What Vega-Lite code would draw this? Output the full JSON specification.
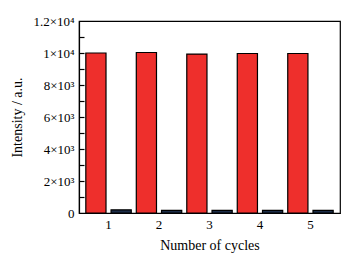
{
  "$schema": "https://vega.github.io/schema/vega-lite/v6.json",
  "width": 261,
  "height": 192,
  "autosize": {"type": "none"},
  "padding": {"left": 79, "top": 21, "right": 17, "bottom": 46},
  "background": "white",
  "config": {
    "font": "Liberation Serif",
    "view": {"stroke": "black", "strokeWidth": 1.2},
    "axis": {"grid": false, "domainColor": "black", "tickColor": "black", "labelColor": "black", "titleColor": "black", "labelFont": "Liberation Serif", "titleFont": "Liberation Serif", "labelFontSize": 13, "titleFontSize": 14, "titleFontWeight": "normal"}
  },
  "data": {
    "values": [
      {"cycle": "1", "series": "A", "intensity": 10000},
      {"cycle": "1", "series": "B", "intensity": 200},
      {"cycle": "2", "series": "A", "intensity": 10030},
      {"cycle": "2", "series": "B", "intensity": 160},
      {"cycle": "3", "series": "A", "intensity": 9930},
      {"cycle": "3", "series": "B", "intensity": 160},
      {"cycle": "4", "series": "A", "intensity": 9970},
      {"cycle": "4", "series": "B", "intensity": 160},
      {"cycle": "5", "series": "A", "intensity": 9970},
      {"cycle": "5", "series": "B", "intensity": 160}
    ]
  },
  "encoding": {
    "x": {
      "field": "cycle", "type": "ordinal",
      "scale": {"paddingInner": 0, "paddingOuter": 0.085},
      "axis": {"title": "Number of cycles", "labelAngle": 0, "ticks": false, "labelPadding": 5, "titlePadding": 7, "domainWidth": 1.2}
    },
    "xOffset": {
      "field": "series", "type": "nominal",
      "scale": {"paddingInner": 0.2, "paddingOuter": 0.1}
    },
    "color": {
      "field": "series", "type": "nominal",
      "scale": {"domain": ["A", "B"], "range": ["#ee2f2c", "#1c2d48"]},
      "legend": null
    }
  },
  "layer": [
    {
      "mark": {"type": "bar", "stroke": "black", "strokeWidth": 1.2},
      "encoding": {
        "y": {
          "field": "intensity", "type": "quantitative",
          "scale": {"domain": [0, 12000], "nice": false},
          "axis": {
            "orient": "left",
            "title": "Intensity / a.u.",
            "values": [0, 2000, 4000, 6000, 8000, 10000, 12000],
            "ticks": false,
            "labelPadding": 5,
            "labelExpr": "datum.value === 0 ? '0' : datum.value === 2000 ? '2×10³' : datum.value === 4000 ? '4×10³' : datum.value === 6000 ? '6×10³' : datum.value === 8000 ? '8×10³' : datum.value === 10000 ? '1×10⁴' : '1.2×10⁴'",
            "titlePadding": 8,
            "domainWidth": 1.2
          }
        }
      }
    },
    {
      "mark": {"type": "bar", "opacity": 0},
      "encoding": {
        "y": {
          "field": "intensity", "type": "quantitative",
          "scale": {"domain": [0, 12000], "nice": false},
          "axis": {
            "orient": "right", "offset": -261, "title": null, "labels": false, "domain": false,
            "values": [1000, 2000, 3000, 4000, 5000, 6000, 7000, 8000, 9000, 10000, 11000],
            "ticks": true, "tickSize": 5, "tickWidth": 1.2, "tickColor": "black"
          }
        }
      }
    }
  ],
  "resolve": {"scale": {"y": "independent"}, "axis": {"y": "independent"}}
}
